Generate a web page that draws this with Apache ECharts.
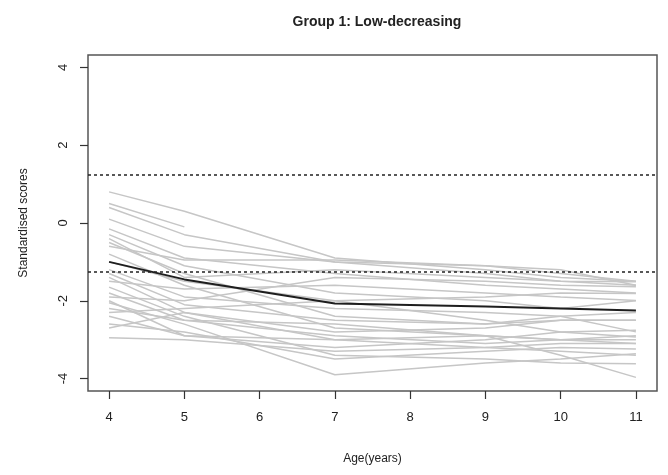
<html>
<head>
    <meta http-equiv="Content-Type" content="text/html; charset=utf-8">
    <script type="text/javascript" src="https://cdn.jsdelivr.net/npm/echarts@6/dist/echarts.min.js"></script>
    <style>
        html, body { margin: 0; padding: 0; background: #fff; }
        #main { width: 668px; height: 475px; }
    </style>
</head>
<body>
<div id="main"></div>
<script type="text/javascript">
    // ages where scores were taken
    var ages = [4, 5, 7, 9, 10, 11];
    var xTicks = [4, 5, 6, 7, 8, 9, 10, 11];
    var yTicks = [-4, -2, 0, 2, 4];
    var cutoffs = [1.25, -1.25];

    // group mean trajectory
    var meanScores = [-1.0, -1.45, -2.07, -2.15, -2.2, -2.25];

    // individual children (null = not measured)
    var individuals = [
        [0.8, 0.3, -0.9, -1.2, -1.4, -1.5],
        [0.5, -0.1, null, null, null, null],
        [0.4, -0.3, -1.0, -1.3, -1.5, -1.6],
        [0.1, -0.6, -1.0, -1.1, -1.3, -1.5],
        [-0.15, -0.9, -1.3, -1.6, -1.7, -1.8],
        [-0.3, -1.1, -1.8, -2.0, -2.2, -2.0],
        [-0.5, -1.3, -2.4, -2.6, -2.5, -2.5],
        [-0.6, -0.95, -0.95, -1.1, -1.2, -1.6],
        [-0.8, -1.6, -2.7, -2.9, -3.0, -3.1],
        [-1.2, -1.9, -2.2, -2.3, -2.4, -2.8],
        [-1.4, -2.3, -3.0, -3.2, -3.3, -3.4],
        [-1.5, -1.7, -1.6, -1.8, -1.9, -1.99],
        [-1.65, -2.4, -3.4, -3.5, -3.6, -3.62],
        [-1.9, -2.0, -1.4, -1.5, -1.6, -1.64],
        [-2.05, -2.6, -3.9, -3.6, -3.5, -3.36],
        [-2.2, -2.5, -2.6, -2.9, -3.4, -3.97],
        [-2.3, -2.2, -2.0, -1.9, -1.8, -1.81],
        [-2.4, -2.9, -3.2, -3.0, -2.8, -2.76],
        [-2.6, -2.8, -3.5, -3.3, -3.2, -3.24],
        [-2.7, -2.3, -2.8, -2.7, -2.5, -2.5],
        [-2.95, -3.0, -3.3, -3.2, -3.1, -3.1],
        [-1.0, -1.5, -2.0, -2.5, -2.8, -2.93],
        [-0.4, -1.4, -1.2, -1.4, -1.5, -1.51],
        [-2.0, -2.9, -3.0, -2.9, -3.0, -3.0],
        [-1.3, -2.1, -2.5, -2.6, -2.4, -2.3],
        [-1.8, -2.5, -2.9, -3.1, -3.0, -2.9]
    ];

    function toPoints(values) {
        var pts = [];
        for (var i = 0; i < ages.length; i++) {
            if (values[i] !== null) pts.push([ages[i], values[i]]);
        }
        return pts;
    }

    var font = '"Liberation Sans", Arial, sans-serif';
    var series = [];
    individuals.forEach(function (row) {
        series.push({
            type: 'line',
            data: toPoints(row),
            symbol: 'none',
            silent: true,
            lineStyle: { color: '#c6c6c6', width: 1.5 },
            z: 2
        });
    });
    series.push({
        type: 'line',
        data: [],
        symbol: 'none',
        silent: true,
        markLine: {
            symbol: 'none',
            silent: true,
            label: { show: false },
            lineStyle: { color: '#222', type: [3, 3], width: 1.5 },
            data: cutoffs.map(function (v) { return { yAxis: v }; })
        },
        z: 3
    });
    series.push({
        type: 'line',
        data: toPoints(meanScores),
        symbol: 'none',
        silent: true,
        lineStyle: { color: '#1e1e1e', width: 2 },
        z: 4
    });

    var option = {
        animation: false,
        title: {
            text: 'Group 1: Low-decreasing',
            left: 372,
            textAlign: 'center',
            top: 10,
            textStyle: { fontFamily: font, fontSize: 14, fontWeight: 'bold', color: '#222' }
        },
        grid: {
            left: 88, right: 11, top: 55, bottom: 84,
            show: true,
            borderColor: '#555',
            borderWidth: 1.5
        },
        xAxis: {
            type: 'value',
            min: 3.72,
            max: 11.28,
            name: 'Age(years)',
            nameLocation: 'middle',
            nameGap: 62,
            nameTextStyle: { fontFamily: font, fontSize: 12, color: '#222' },
            axisLine: { show: false, onZero: false },
            splitLine: { show: false },
            axisTick: { show: true, length: 8, lineStyle: { color: '#333', width: 1.2 }, customValues: xTicks },
            axisLabel: { fontFamily: font, fontSize: 13, color: '#222', margin: 20, customValues: xTicks }
        },
        yAxis: {
            type: 'value',
            min: -4.32,
            max: 4.32,
            name: 'Standardised scores',
            nameLocation: 'middle',
            nameGap: 58,
            nameTextStyle: { fontFamily: font, fontSize: 12, color: '#222' },
            axisLine: { show: false, onZero: false },
            splitLine: { show: false },
            axisTick: { show: true, length: 8, lineStyle: { color: '#333', width: 1.2 }, customValues: yTicks },
            axisLabel: { fontFamily: font, fontSize: 13, color: '#222', margin: 18, rotate: 90, customValues: yTicks }
        },
        series: series
    };

    var myChart = echarts.init(document.getElementById('main'));
    myChart.setOption(option);
</script>
</body>
</html>
